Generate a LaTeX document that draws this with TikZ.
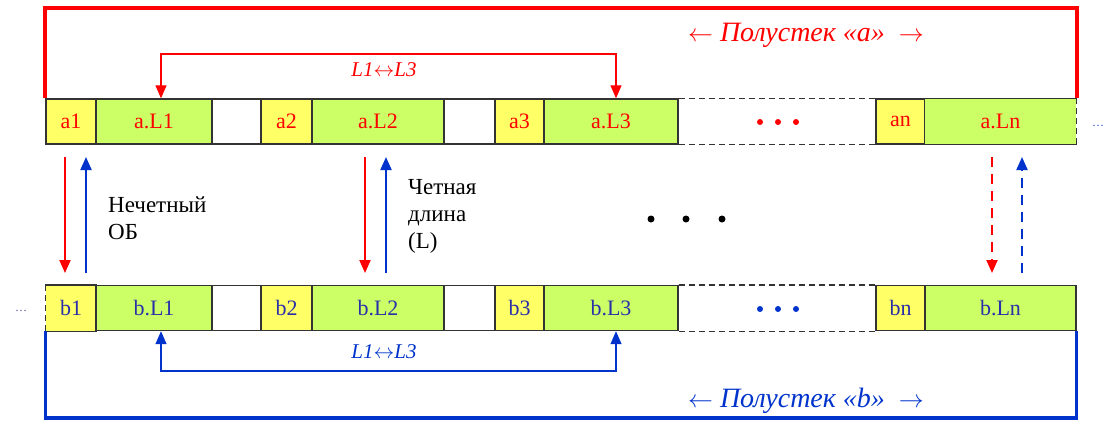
\documentclass[tikz,border=0pt]{standalone}
\usepackage{fontspec}
\setmainfont{Liberation Serif}
\usetikzlibrary{arrows.meta}
\definecolor{cy}{HTML}{FFFF66}
\definecolor{cg}{HTML}{CCFF66}
\definecolor{cred}{HTML}{FF0000}
\definecolor{cblue}{HTML}{0033CC}
\definecolor{cbtext}{HTML}{2B2FA8}
\definecolor{cbord}{HTML}{333333}
\tikzset{
  cell/.style={draw=cbord, line width=1.4pt, minimum height=45pt, inner sep=0pt, font=\fontsize{22}{26}\selectfont},
  ycell/.style={cell, fill=cy},
  gcell/.style={cell, fill=cg},
  wcell/.style={cell, fill=white},
  tr/.style={text=cred},
  tb/.style={text=cbtext},
  dsh/.style={draw=cbord, line width=1.4pt, dash pattern=on 6pt off 4pt},
  frameR/.style={draw=cred, line width=4pt},
  frameB/.style={draw=cblue, line width=3.5pt},
  swapR/.style={draw=cred, line width=1.3pt, {Triangle[width=11pt,length=13pt]}-{Triangle[width=11pt,length=13pt]}},
  swapB/.style={draw=cblue, line width=1.3pt, {Triangle[width=11pt,length=13pt]}-{Triangle[width=11pt,length=13pt]}},
  vR/.style={draw=cred, line width=2pt, -{Triangle[width=11pt,length=13pt]}},
  vB/.style={draw=cblue, line width=2pt, -{Triangle[width=11pt,length=13pt]}},
  lab/.style={font=\itshape\fontsize{21}{24}\selectfont},
  big/.style={font=\itshape\fontsize{28}{32}\selectfont},
  note/.style={font=\fontsize{23}{27}\selectfont, align=left, anchor=west, inner sep=0pt},
}
\begin{document}
\begin{tikzpicture}[x=1pt,y=-1pt]
\useasboundingbox (0,0) rectangle (1107,421);
% top row
\node[ycell,tr,minimum width=50pt] (a1) at (71,121.5) {a1};
\node[gcell,tr,minimum width=116pt] (aL1) at (154,121.5) {a.L1};
\node[wcell,minimum width=49pt] (aw1) at (236.5,121.5) {};
\node[ycell,tr,minimum width=51pt] (a2) at (286.5,121.5) {a2};
\node[gcell,tr,minimum width=132pt] (aL2) at (378,121.5) {a.L2};
\node[wcell,minimum width=51pt] (aw2) at (469.5,121.5) {};
\node[ycell,tr,minimum width=49pt] (a3) at (519.5,121.5) {a3};
\node[gcell,tr,minimum width=134pt] (aL3) at (611,121.5) {a.L3};
\node[ycell,tr,minimum width=49pt] (an) at (900.5,121.5) {an};
\node[cell,draw=none,fill=cg,tr,minimum width=151pt] (aLn) at (1000.5,121.5) {a.Ln};
\draw[cbord,line width=1.4pt] (aLn.north east) -- (aLn.north west) -- (aLn.south west) -- (aLn.south east);
\draw[dsh] (aLn.north east) -- (aLn.south east);
\draw[dsh] (aL3.north east) -- (an.north west);
\draw[dsh] (aL3.south east) -- (an.south west);
\foreach \x in {760,778,796} \fill[cred] (\x,122) circle (3pt);
\node[text=cblue!70!gray,font=\fontsize{12}{14}\selectfont] (rdots) at (1098,126) {\dots};
% bottom row
\node[cell,draw=none,fill=cy,tb,minimum width=50pt] (b1) at (71,308) {b1};
\draw[cbord,line width=1.4pt] (b1.north west) -- (b1.north east) -- (b1.south east) -- (b1.south west);
\draw[dsh] (b1.north west) -- (b1.south west);
\node[gcell,tb,minimum width=116pt] (bL1) at (154,308) {b.L1};
\node[wcell,minimum width=49pt] (bw1) at (236.5,308) {};
\node[ycell,tb,minimum width=51pt] (b2) at (286.5,308) {b2};
\node[gcell,tb,minimum width=132pt] (bL2) at (378,308) {b.L2};
\node[wcell,minimum width=51pt] (bw2) at (469.5,308) {};
\node[ycell,tb,minimum width=49pt] (b3) at (519.5,308) {b3};
\node[gcell,tb,minimum width=134pt] (bL3) at (611,308) {b.L3};
\node[ycell,tb,minimum width=49pt] (bn) at (900.5,308) {bn};
\node[gcell,tb,minimum width=151pt] (bLn) at (1000.5,308) {b.Ln};
\draw[dsh] (bL3.north east) -- (bn.north west);
\draw[dsh] (bL3.south east) -- (bn.south west);
\foreach \x in {760,778,796} \fill[cblue] (\x,309) circle (3pt);
\node[text=cbtext!60!gray,font=\fontsize{12}{14}\selectfont] (ldots) at (21,311) {\dots};
% frames
\coordinate (topR) at (0,8);
\coordinate (botB) at (0,418);
\draw[frameR] (a1.north west) -- (a1.north west |- topR) -- (aLn.north east |- topR) -- (aLn.north east);
\draw[frameB] (b1.south west) -- (b1.south west |- botB) -- (bLn.south east |- botB) -- (bLn.south east);
\node[big,text=cred] (pa) at (806,35) {$\leftarrow$\ Полустек «а»\ \ $\rightarrow$};
\node[big,text=cblue] (pb) at (806,401) {$\leftarrow$\ Полустек «b»\ \ $\rightarrow$};
% swap arrows
\coordinate (ra) at (161,54);
\coordinate (rb) at (616,54);
\draw[swapR] (aL1.north -| ra) -- (ra) -- (rb) -- (aL3.north -| rb);
\node[lab,text=cred] (la) at (384,70) {L1$\leftrightarrow$L3};
\coordinate (ba) at (161,371);
\coordinate (bb) at (616,371);
\draw[swapB] (bL1.south -| ba) -- (ba) -- (bb) -- (bL3.south -| bb);
\node[lab,text=cblue] (lb) at (384,352) {L1$\leftrightarrow$L3};
% vertical arrows
\coordinate (v1t) at (65,157); \coordinate (v1b) at (65,273);
\coordinate (v2t) at (86,157); \coordinate (v2b) at (86,273);
\draw[vR] (v1t) -- (v1b);
\draw[vB] (v2b) -- (v2t);
\coordinate (v3t) at (365,157); \coordinate (v3b) at (365,273);
\coordinate (v4t) at (386,157); \coordinate (v4b) at (386,273);
\draw[vR] (v3t) -- (v3b);
\draw[vB] (v4b) -- (v4t);
\coordinate (v5t) at (992,157); \coordinate (v5b) at (992,273);
\coordinate (v6t) at (1022,157); \coordinate (v6b) at (1022,273);
\draw[vR,dash pattern=on 10pt off 7pt] (v5t) -- (v5b);
\draw[vB,dash pattern=on 10pt off 7pt] (v6b) -- (v6t);
% notes
\node[note] (n1) at (108,218) {Нечетный\\ОБ};
\node[note] (n2) at (408,216) {Четная\\длина\\(L)};
\foreach \x in {651,686,722} \fill[black] (\x,219) circle (3.5pt);
\end{tikzpicture}
\end{document}
